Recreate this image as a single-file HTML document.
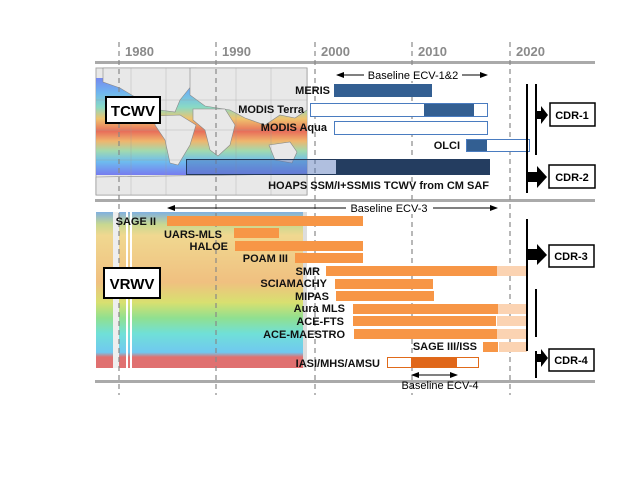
<!DOCTYPE html>
<html><head><meta charset="utf-8"><style>
html,body{margin:0;padding:0;background:#fff;}
svg{display:block;}
text{font-family:"Liberation Sans",sans-serif;}
.l{font-size:11px;font-weight:bold;text-anchor:end;fill:#111;}
.y{font-size:13px;font-weight:bold;fill:#8a8a8a;}
.c{font-size:11px;font-weight:bold;text-anchor:middle;}
</style></head><body>
<svg width="640" height="480" viewBox="0 0 640 480" xmlns="http://www.w3.org/2000/svg">
<defs>
<linearGradient id="oc" x1="0" y1="0" x2="0" y2="1">
<stop offset="0" stop-color="#6a7ff0"/><stop offset="0.15" stop-color="#62b0f0"/>
<stop offset="0.3" stop-color="#7fd8c0"/><stop offset="0.42" stop-color="#f0c060"/>
<stop offset="0.55" stop-color="#e8604a"/><stop offset="0.65" stop-color="#f0b060"/>
<stop offset="0.75" stop-color="#9ad8a8"/><stop offset="0.86" stop-color="#60b8f0"/>
<stop offset="1" stop-color="#6a70f0"/></linearGradient>
<linearGradient id="vr" x1="0" y1="0" x2="0" y2="1">
<stop offset="0" stop-color="#80b0e0"/><stop offset="0.08" stop-color="#c8d890"/>
<stop offset="0.15" stop-color="#f0d890"/><stop offset="0.45" stop-color="#f0c080"/>
<stop offset="0.58" stop-color="#d8e070"/><stop offset="0.68" stop-color="#90e090"/>
<stop offset="0.78" stop-color="#70e0d8"/><stop offset="0.9" stop-color="#70c8f0"/>
<stop offset="0.93" stop-color="#e07070"/><stop offset="1" stop-color="#e07070"/></linearGradient>
<marker id="ah" markerWidth="8" markerHeight="6" refX="7" refY="3" orient="auto-start-reverse"><path d="M0,0L8,3L0,6z" fill="#000"/></marker>
</defs>
<!-- map -->
<rect x="96" y="68" width="211" height="127" fill="#e8e8e8" stroke="#aaa"/>
<rect x="96" y="78" width="211" height="97" fill="url(#oc)" opacity="0.9"/>
<g fill="#e8e8e8" stroke="#888" stroke-width="0.6">
<path d="M103,68L196,68L192,85L180,100L175,112L160,110L140,100L120,88L103,82z"/>
<path d="M155,116L180,115L196,125L190,145L178,165L170,163L165,140L155,125z"/>
<path d="M190,68L307,68L307,110L295,118L280,115L265,125L245,118L230,110L205,106L190,95z"/>
<path d="M193,109L225,109L235,125L230,145L218,156L210,150L205,130L193,120z"/>
<path d="M269,145L290,142L297,152L292,163L275,160z"/>
<path d="M96,177L307,174L307,195L96,195z"/>
</g>
<g stroke="#999" stroke-width="0.5" opacity="0.6"><line x1="96" y1="100" x2="307" y2="100"/><line x1="96" y1="130" x2="307" y2="130"/><line x1="96" y1="160" x2="307" y2="160"/><line x1="131" y1="68" x2="131" y2="195"/><line x1="166" y1="68" x2="166" y2="195"/><line x1="236" y1="68" x2="236" y2="195"/><line x1="271" y1="68" x2="271" y2="195"/></g>
<!-- vrwv -->
<rect x="96" y="212" width="211" height="156" fill="#ddd"/>
<rect x="96" y="212" width="207" height="156" fill="url(#vr)"/>
<rect x="113" y="212" width="6" height="156" fill="#eee"/>
<rect x="126" y="212" width="2" height="156" fill="#fff"/>
<rect x="130" y="212" width="2" height="156" fill="#fff"/>
<!-- axes -->
<rect x="95" y="61" width="500" height="3" fill="#aaa"/>
<rect x="95" y="199" width="500" height="3" fill="#aaa"/>
<rect x="95" y="380" width="500" height="3" fill="#aaa"/>
<g stroke="#888" stroke-width="1.2" stroke-dasharray="5,4">
<line x1="119" y1="42" x2="119" y2="395"/><line x1="216" y1="42" x2="216" y2="395"/>
<line x1="315" y1="42" x2="315" y2="395"/><line x1="412" y1="42" x2="412" y2="395"/>
<line x1="510" y1="42" x2="510" y2="395"/></g>
<text class="y" x="125" y="56">1980</text><text class="y" x="222" y="56">1990</text>
<text class="y" x="321" y="56">2000</text><text class="y" x="418" y="56">2010</text>
<text class="y" x="516" y="56">2020</text>
<!-- labels boxes -->
<rect x="106" y="97" width="54" height="26" fill="#fff" stroke="#000" stroke-width="2"/>
<text x="133" y="116" font-size="15" font-weight="bold" text-anchor="middle">TCWV</text>
<rect x="104" y="268" width="56" height="30" fill="#fff" stroke="#000" stroke-width="2"/>
<text x="132" y="289" font-size="15" font-weight="bold" text-anchor="middle">VRWV</text>
<!-- top bars -->
<line x1="337" y1="75" x2="487" y2="75" stroke="#000" marker-start="url(#ah)" marker-end="url(#ah)"/>
<rect x="364" y="68" width="98" height="13" fill="#fff"/>
<text x="413" y="79" font-size="11" text-anchor="middle">Baseline ECV-1&amp;2</text>
<rect x="334" y="84" width="98" height="13" fill="#335f92"/>
<text class="l" x="330" y="94">MERIS</text>
<rect x="310.5" y="103.5" width="177" height="13" fill="#fff" stroke="#4a7cc0"/>
<rect x="424" y="104" width="50" height="12" fill="#335f92"/>
<text class="l" x="304" y="113">MODIS Terra</text>
<rect x="334.5" y="121.5" width="153" height="13" fill="#fff" stroke="#4a7cc0"/>
<text class="l" x="327" y="131">MODIS Aqua</text>
<rect x="466.5" y="139.5" width="63" height="12" fill="#fff" stroke="#4a7cc0"/>
<rect x="467" y="140" width="20" height="11" fill="#335f92"/>
<text class="l" x="460" y="149">OLCI</text>
<rect x="186" y="159" width="150" height="15" fill="#5070b8" opacity="0.45"/>
<rect x="186.5" y="159.5" width="303" height="15" fill="none" stroke="#22395a"/>
<rect x="336" y="159" width="154" height="16" fill="#243d60"/>
<text class="l" x="489" y="189">HOAPS SSM/I+SSMIS TCWV from CM SAF</text>
<!-- ECV-3 -->
<line x1="168" y1="208" x2="497" y2="208" stroke="#000" marker-start="url(#ah)" marker-end="url(#ah)"/>
<rect x="346" y="202" width="87" height="12" fill="#fff"/>
<text x="389" y="212" font-size="11" text-anchor="middle">Baseline ECV-3</text>
<g fill="#f79646">
<rect x="167" y="216" width="196" height="10"/><rect x="234" y="228" width="45" height="10"/>
<rect x="235" y="241" width="128" height="10"/><rect x="295" y="253" width="68" height="10"/>
<rect x="326" y="266" width="171" height="10"/><rect x="335" y="279" width="98" height="10"/>
<rect x="336" y="291" width="98" height="10"/><rect x="353" y="304" width="145" height="10"/>
<rect x="353" y="316" width="143" height="10"/><rect x="354" y="329" width="143" height="10"/>
<rect x="483" y="342" width="15" height="10"/></g>
<g fill="#fbd3b2">
<rect x="497" y="266" width="30" height="10"/><rect x="498" y="304" width="29" height="10"/>
<rect x="497" y="316" width="30" height="10"/><rect x="497" y="329" width="30" height="10"/>
<rect x="499" y="342" width="28" height="10"/></g>
<g class="l">
<text class="l" x="156" y="225">SAGE II</text><text class="l" x="222" y="238">UARS-MLS</text>
<text class="l" x="228" y="250">HALOE</text><text class="l" x="288" y="262">POAM III</text>
<text class="l" x="320" y="275">SMR</text><text class="l" x="327" y="287">SCIAMACHY</text>
<text class="l" x="329" y="300">MIPAS</text><text class="l" x="345" y="312">Aura MLS</text>
<text class="l" x="344" y="325">ACE-FTS</text><text class="l" x="345" y="338">ACE-MAESTRO</text>
<text class="l" x="477" y="350">SAGE III/ISS</text><text class="l" x="380" y="367">IASI/MHS/AMSU</text></g>
<rect x="387.5" y="357.5" width="91" height="10" fill="#fff" stroke="#e06a1a"/>
<rect x="411" y="358" width="46" height="9" fill="#e0671a"/>
<line x1="412" y1="375" x2="457" y2="375" stroke="#000" marker-start="url(#ah)" marker-end="url(#ah)"/>
<text x="440" y="389" font-size="11" text-anchor="middle">Baseline ECV-4</text>
<!-- right CDR -->
<g stroke="#000" stroke-width="2">
<line x1="527" y1="84" x2="527" y2="193"/><line x1="536" y1="84" x2="536" y2="155"/>
<line x1="527" y1="219" x2="527" y2="351"/><line x1="536" y1="289" x2="536" y2="337"/>
<line x1="536" y1="351" x2="536" y2="378"/></g>
<g fill="#000">
<path d="M536,111L541,111L541,106L548,115L541,124L541,119L536,119z"/>
<path d="M527,172L537,172L537,166L547,177L537,188L537,182L527,182z"/>
<path d="M527,249L537,249L537,244L547,255L537,265L537,260L527,260z"/>
<path d="M536,354L541,354L541,349L548,358L541,367L541,362L536,362z"/></g>
<g fill="#fff" stroke="#000" stroke-width="1.5">
<rect x="550" y="103" width="45" height="23"/><rect x="549" y="165" width="46" height="23"/>
<rect x="549" y="245" width="45" height="22"/><rect x="549" y="349" width="45" height="22"/></g>
<text class="c" x="572" y="119">CDR-1</text><text class="c" x="572" y="181">CDR-2</text>
<text class="c" x="571" y="260">CDR-3</text><text class="c" x="571" y="364">CDR-4</text>
</svg>
</body></html>
